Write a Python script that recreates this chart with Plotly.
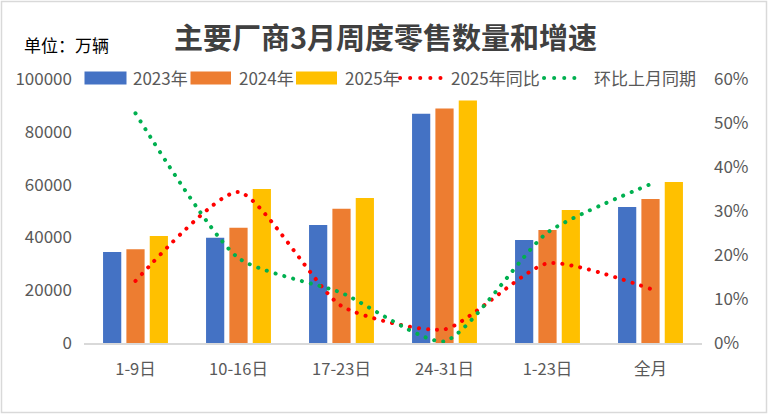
import plotly.graph_objects as go

categories = ["1-9日", "10-16日", "17-23日", "24-31日", "1-23日", "全月"]
sales_2023 = [34500, 39850, 44680, 86880, 38970, 51520]
sales_2024 = [35550, 43650, 50870, 88780, 42780, 54560]
sales_2025 = [40500, 58370, 54940, 91830, 50380, 61030]
yoy_2025 = [0.141, 0.343, 0.084, 0.031, 0.181, 0.123]
mom_same_period = [0.522, 0.193, 0.114, 0.004, 0.251, 0.361]

left_ticks = [0, 20000, 40000, 60000, 80000, 100000]
right_ticks = [0, 0.1, 0.2, 0.3, 0.4, 0.5, 0.6]

W, H = 770, 416
L, R, T, B = 84, 68, 79, 73
PW, PH = W - L - R, H - T - B

def px(x):
    return (x - L) / PW

def py(y):
    return (H - B - y) / PH

FONT = "Noto Sans CJK SC"
TXT = "#595959"
blue, orange, yellow, red, green = "#4472C4", "#ED7D31", "#FFC000", "#FF0000", "#00B050"

fig = go.Figure()
for name, vals, col in [("2023年", sales_2023, blue), ("2024年", sales_2024, orange), ("2025年", sales_2025, yellow)]:
    fig.add_trace(go.Bar(x=categories, y=vals, name=name, marker_color=col, marker_line_width=0))

dash = "0.1px,9px"
LW = 4
fig.add_trace(go.Scatter(x=categories, y=yoy_2025, name="2025年同比", yaxis="y2", mode="lines",
                         line=dict(color=red, width=LW, dash=dash, shape="spline", smoothing=0.6)))
fig.add_trace(go.Scatter(x=categories, y=mom_same_period, name="环比上月同期", yaxis="y2", mode="lines",
                         line=dict(color=green, width=LW, dash=dash, shape="spline", smoothing=0.6)))

shapes = []
annotations = []
# border
shapes.append(dict(type="rect", xref="paper", yref="paper", x0=px(1.5), x1=px(766.5), y0=py(1.5), y1=py(412.5),
                   line=dict(color="#D9D9D9", width=1.5), fillcolor="rgba(0,0,0,0)", layer="below"))
# custom legend
ly = 78
legend_items = [
    ("rect", blue, 84.5, 126.5, "2023年", 131),
    ("rect", orange, 190.5, 231, "2024年", 237),
    ("rect", yellow, 296, 337, "2025年", 343),
    ("line", red, 400, 441, "2025年同比", 449),
    ("line", green, 544, 584, "环比上月同期", 592),
]
for kind, col, x0, x1, label, tx in legend_items:
    if kind == "rect":
        shapes.append(dict(type="rect", xref="paper", yref="paper", x0=px(x0), x1=px(x1), y0=py(ly + 6.5), y1=py(ly - 6.5),
                           line=dict(width=0), fillcolor=col))
    else:
        shapes.append(dict(type="line", xref="paper", yref="paper", x0=px(x0), x1=px(x1), y0=py(ly), y1=py(ly),
                           line=dict(color=col, width=LW, dash="0.1px,10px")))
    annotations.append(dict(text=label, xref="paper", yref="paper", x=px(tx), y=py(ly), xanchor="left", yanchor="middle",
                            showarrow=False, font=dict(family=FONT, size=17, color=TXT)))

annotations.append(dict(text="<b>主要厂商3月周度零售数量和增速</b>", xref="paper", yref="paper", x=px(385), y=py(36),
                        xanchor="center", yanchor="middle", showarrow=False,
                        font=dict(family=FONT, size=29, color="#404040")))
annotations.append(dict(text="单位：万辆", xref="paper", yref="paper", x=px(22), y=py(45),
                        xanchor="left", yanchor="middle", showarrow=False,
                        font=dict(family=FONT, size=17, color="#000000")))

fig.update_layout(
    width=W, height=H,
    margin=dict(l=L, r=R, t=T, b=B, pad=0),
    paper_bgcolor="white", plot_bgcolor="white",
    barmode="group", bargap=0.32, bargroupgap=0.22,
    showlegend=False,
    font=dict(family=FONT, size=17, color=TXT),
    xaxis=dict(showgrid=False, showline=True, linecolor="#D9D9D9", linewidth=1.5, ticks="",
               tickfont=dict(size=16.5, color=TXT), ticklabelstandoff=10, zeroline=False),
    yaxis=dict(range=[0, 100000], tickvals=left_ticks, tickformat="d", showgrid=False, zeroline=False,
               showline=False, ticks="", tickfont=dict(size=17, color=TXT), ticklabelstandoff=11),
    yaxis2=dict(range=[0, 0.6], tickvals=right_ticks, tickformat=".0%", overlaying="y", side="right",
                showgrid=False, zeroline=False, showline=False, ticks="", tickfont=dict(size=17, color=TXT),
                ticklabelstandoff=11),
    shapes=shapes, annotations=annotations,
)

post = (
    "document.body.style.margin='0px';document.body.style.padding='0px';"
    "document.querySelectorAll('.scatterlayer path.js-line, .shapelayer path').forEach(function(p){"
    "var d=p.style.strokeDasharray||p.getAttribute('stroke-dasharray')||'';"
    "if(d && d!=='none'){p.style.strokeLinecap='round';}});"
)
fig.write_html("out.html", config={"displayModeBar": False}, post_script=post)
